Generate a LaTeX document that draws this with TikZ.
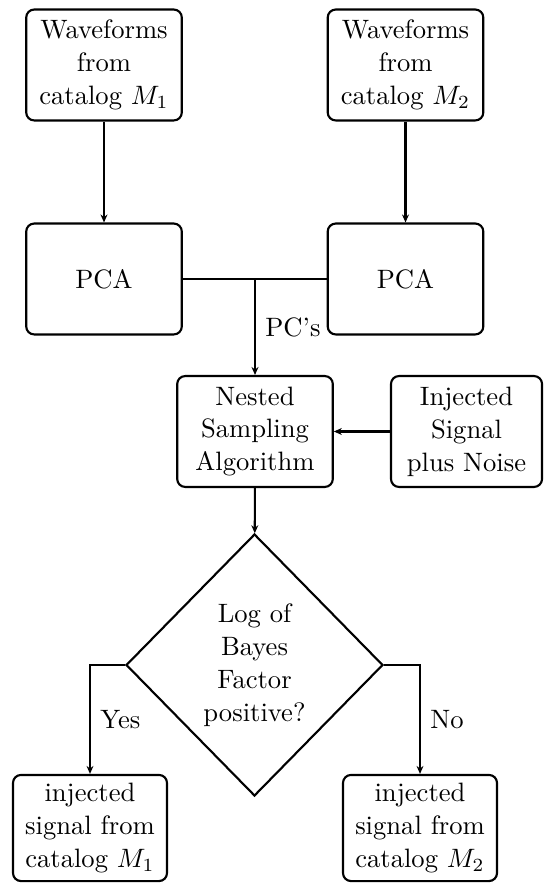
\documentclass[tikz,border=0pt]{standalone}
\usetikzlibrary{shapes.geometric,arrows.meta}

\tikzset{
  base/.style={draw=black, line width=0.8pt, align=center,
    font=\fontsize{10}{12.4}\selectfont, inner sep=2pt},
  stepbox/.style={base, rectangle, rounded corners=3pt,
    minimum width=58.5pt, minimum height=41.7pt},
  decision/.style={base, diamond, inner sep=0pt,
    minimum width=96.6pt, minimum height=98.5pt},
  flow/.style={draw=black, line width=0.8pt,
    -{Stealth[length=3pt,width=2.6pt]}},
  link/.style={draw=black, line width=0.8pt},
  lbl/.style={font=\fontsize{10}{12.4}\selectfont, inner sep=3.5pt}
}

\begin{document}
\begin{tikzpicture}[x=0.376pt, y=-0.376pt]
  \useasboundingbox (0,0) rectangle (544,883);

  % catalogs and their PCA stages
  \node[stepbox] (w1) at (104,65) {Waveforms\\from\\catalog $M_1$};
  \node[stepbox] (w2) at (405.5,65) {Waveforms\\from\\catalog $M_2$};
  \node[stepbox] (pca1) at (104,279) {PCA};
  \node[stepbox] (pca2) at (405.5,279) {PCA};
  \coordinate (join) at (255,279);

  % sampling stage
  \node[stepbox] (nest) at (255,431.5) {Nested\\Sampling\\Algorithm};
  \node[stepbox, minimum width=56.8pt] (inj) at (466.5,431.5)
    {Injected\\Signal\\plus Noise};

  % decision and outcomes
  \node[decision] (dec) at (254.5,665) {Log of\\Bayes\\Factor\\positive?};
  \node[stepbox, minimum width=57.9pt, minimum height=39.9pt] (out1)
    at (90,828) {injected\\signal from\\catalog $M_1$};
  \node[stepbox, minimum width=57.9pt, minimum height=39.9pt] (out2)
    at (420,828) {injected\\signal from\\catalog $M_2$};

  % connectors
  \draw[flow] (w1) -- (pca1);
  \draw[flow] (w2) -- (pca2);
  \draw[link] (pca1.east) -- (join) -- (pca2.west);
  \draw[flow] (join) -- node[lbl, right] {PC's} (nest);
  \draw[flow] (inj) -- (nest);
  \draw[flow] (nest) -- (dec);
  \draw[flow] (dec.west) -| node[lbl, pos=0.75, right] {Yes} (out1.north);
  \draw[flow] (dec.east) -| node[lbl, pos=0.75, right] {No} (out2.north);
\end{tikzpicture}
\end{document}
